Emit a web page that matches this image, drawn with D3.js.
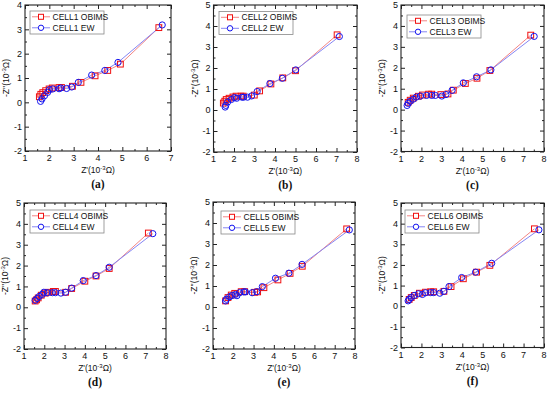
<!DOCTYPE html>
<html>
<head>
<meta charset="utf-8">
<script src="https://cdn.jsdelivr.net/npm/d3@7"></script>
<style>
  body { margin: 0; background: #fff; }
  svg { display: block; }
</style>
</head>
<body>
<div id="app"></div>
<script>
// Nyquist data, [Z', -Z''] in 10^-3 ohm
const cell1Obims = [[1.59,0.23],[1.65,0.33],[1.73,0.4],[1.85,0.48],[1.99,0.55],[2.12,0.59],[2.4,0.61],[2.5,0.61],[2.95,0.66],[3.3,0.82],[3.88,1.09],[4.4,1.31],[4.92,1.57],[6.5,3.07]]
const cell1Ew = [[1.64,0.04],[1.7,0.14],[1.8,0.27],[1.93,0.41],[2.0,0.52],[2.14,0.55],[2.4,0.56],[2.47,0.59],[2.71,0.57],[2.92,0.63],[3.19,0.82],[3.74,1.12],[4.28,1.31],[4.82,1.64],[6.64,3.18]]

const cell2Obims = [[1.48,0.33],[1.55,0.42],[1.62,0.5],[1.76,0.56],[1.95,0.62],[2.1,0.66],[2.34,0.66],[2.45,0.66],[2.99,0.71],[3.25,0.91],[3.8,1.24],[4.38,1.53],[5.0,1.87],[7.03,3.58]]
const cell2Ew = [[1.57,0.14],[1.6,0.22],[1.69,0.38],[1.87,0.5],[2.02,0.59],[2.13,0.56],[2.39,0.61],[2.47,0.61],[2.66,0.61],[2.86,0.67],[3.13,0.88],[3.75,1.26],[4.36,1.51],[5.01,1.91],[7.14,3.5]]

const cell3Obims = [[1.35,0.35],[1.45,0.45],[1.6,0.55],[1.85,0.64],[2.05,0.7],[2.35,0.74],[2.5,0.74],[2.95,0.72],[3.3,0.75],[3.56,0.93],[4.15,1.25],[4.72,1.5],[5.35,1.87],[7.35,3.56]]
const cell3Ew = [[1.3,0.2],[1.35,0.3],[1.45,0.4],[1.6,0.5],[1.75,0.6],[1.95,0.65],[2.25,0.68],[2.5,0.68],[2.68,0.68],[3.0,0.65],[3.2,0.72],[3.5,0.92],[4.05,1.28],[4.7,1.57],[5.4,1.9],[7.52,3.5]]

const cell4Obims = [[1.55,0.3],[1.62,0.36],[1.7,0.45],[1.85,0.58],[2.05,0.68],[2.2,0.72],[2.45,0.76],[2.55,0.76],[3.05,0.72],[3.35,0.9],[4.0,1.25],[4.55,1.5],[5.2,1.86],[7.13,3.56]]
const cell4Ew = [[1.55,0.33],[1.65,0.42],[1.75,0.52],[1.9,0.62],[1.98,0.72],[2.15,0.7],[2.4,0.7],[2.55,0.7],[2.82,0.68],[3.05,0.72],[3.35,0.92],[3.92,1.28],[4.55,1.52],[5.2,1.92],[7.35,3.53]]

const cell5Obims = [[1.62,0.29],[1.74,0.45],[1.9,0.57],[2.07,0.65],[2.39,0.73],[2.56,0.73],[3.05,0.7],[3.2,0.72],[3.51,0.92],[4.2,1.29],[4.8,1.6],[5.4,1.94],[7.59,3.72]]
const cell5Ew = [[1.62,0.29],[1.66,0.37],[1.82,0.49],[1.95,0.55],[2.11,0.6],[2.18,0.54],[2.31,0.68],[2.52,0.72],[2.6,0.72],[2.93,0.68],[3.16,0.73],[3.43,0.97],[4.08,1.37],[4.74,1.61],[5.39,2.03],[7.72,3.67]]

const cell6Obims = [[1.4,0.33],[1.5,0.42],[1.65,0.52],[1.9,0.63],[2.2,0.68],[2.45,0.7],[2.6,0.7],[3.1,0.72],[3.45,0.95],[4.05,1.33],[4.7,1.65],[5.35,1.98],[7.53,3.75]]
const cell6Ew = [[1.35,0.26],[1.4,0.33],[1.5,0.42],[1.65,0.52],[1.85,0.6],[2.05,0.57],[2.2,0.65],[2.45,0.66],[2.6,0.66],[2.9,0.63],[3.1,0.72],[3.35,0.95],[3.97,1.39],[4.65,1.65],[5.44,2.08],[7.75,3.7]]

const cellNames = ["CELL1", "CELL2", "CELL3", "CELL4", "CELL5", "CELL6"]
const panelLetters = ["(a)", "(b)", "(c)", "(d)", "(e)", "(f)"]
const xDomains = [[1,7],[1,8],[1,8],[1,8],[1,8],[1,8]]
const yDomains = [[-2,4],[-2,5],[-2,5],[-2,5],[-2,5],[-2,5]]

const obimsSets = [cell1Obims, cell2Obims, cell3Obims, cell4Obims, cell5Obims, cell6Obims]
const ewSets = [cell1Ew, cell2Ew, cell3Ew, cell4Ew, cell5Ew, cell6Ew]

// frame boxes of the six plots: left, top, right, bottom
const frames = [
  [25, 5, 171, 151],
  [213.5, 5, 357, 152],
  [401, 5, 544, 151.5],
  [24, 203, 166, 349],
  [213, 202, 355, 349],
  [401, 203, 544, 347.5]
]
const legendPos = [[5, 6], [5.5, 6.5], [6, 10], [6, 7], [8, 9], [4, 7]]

const red = "#f01010", redLine = "#f38585"
const blue = "#1414f0", blueLine = "#8585f3"
const font = "'Liberation Sans', Arial, sans-serif"

const svg = d3.select("#app").append("svg")
  .attr("width", 550).attr("height", 395)

svg.append("rect").attr("width", 550).attr("height", 395).attr("fill", "#fff")

function drawPanel(i) {
  const [l, t, r, b] = frames[i]
  const g = svg.append("g")
  const x = d3.scaleLinear().domain(xDomains[i]).range([l, r])
  const y = d3.scaleLinear().domain(yDomains[i]).range([b, t])

  const xMajor = d3.range(xDomains[i][0], xDomains[i][1] + 0.01, 1)
  const yMajor = d3.range(yDomains[i][0], yDomains[i][1] + 0.01, 1)
  const xMinor = d3.range(xDomains[i][0] + 0.5, xDomains[i][1], 1)
  const yMinor = d3.range(yDomains[i][0] + 0.5, yDomains[i][1], 1)

  // inward ticks on all four sides
  const xaxes = [
    [d3.axisBottom(x).tickValues(xMajor).tickSize(-4), b],
    [d3.axisTop(x).tickValues(xMajor).tickSize(-4), t],
    [d3.axisBottom(x).tickValues(xMinor).tickSize(-2), b],
    [d3.axisTop(x).tickValues(xMinor).tickSize(-2), t]
  ]
  xaxes.forEach(([ax, ty]) => {
    g.append("g").attr("transform", `translate(0,${ty})`)
      .call(ax.tickFormat(""))
      .call(s => s.select(".domain").remove())
      .call(s => s.selectAll("line").attr("stroke", "#222"))
  })
  const yaxes = [
    [d3.axisLeft(y).tickValues(yMajor).tickSize(-4), l],
    [d3.axisRight(y).tickValues(yMajor).tickSize(-4), r],
    [d3.axisLeft(y).tickValues(yMinor).tickSize(-2), l],
    [d3.axisRight(y).tickValues(yMinor).tickSize(-2), r]
  ]
  yaxes.forEach(([ax, tx]) => {
    g.append("g").attr("transform", `translate(${tx},0)`)
      .call(ax.tickFormat(""))
      .call(s => s.select(".domain").remove())
      .call(s => s.selectAll("line").attr("stroke", "#222"))
  })

  g.append("rect")
    .attr("x", l).attr("y", t).attr("width", r - l).attr("height", b - t)
    .attr("fill", "none").attr("stroke", "#222").attr("stroke-width", 1.1)

  // tick labels
  g.selectAll(".xl").data(xMajor).enter().append("text")
    .attr("x", d => x(d)).attr("y", b + 10)
    .attr("text-anchor", "middle")
    .attr("font-family", font).attr("font-size", 9).attr("fill", "#111")
    .text(d => d)
  g.selectAll(".yl").data(yMajor).enter().append("text")
    .attr("x", l - 3).attr("y", d => y(d) + 3.2)
    .attr("text-anchor", "end")
    .attr("font-family", font).attr("font-size", 9).attr("fill", "#111")
    .text(d => d)

  // axis titles
  const xt = g.append("text")
    .attr("x", (l + r) / 2).attr("y", b + 22)
    .attr("text-anchor", "middle")
    .attr("font-family", font).attr("font-size", 8.5).attr("fill", "#111")
  xt.append("tspan").text("Z'(10")
  xt.append("tspan").attr("dy", -3).attr("font-size", 6).text("-3")
  xt.append("tspan").attr("dy", 3).text("Ω)")

  const yt = g.append("text")
    .attr("transform", `translate(${l - 16},${(t + b) / 2}) rotate(-90)`)
    .attr("text-anchor", "middle")
    .attr("font-family", font).attr("font-size", 8.5).attr("fill", "#111")
  yt.append("tspan").text("-Z''(10")
  yt.append("tspan").attr("dy", -3).attr("font-size", 6).text("-3")
  yt.append("tspan").attr("dy", 3).text("Ω)")

  g.append("text")
    .attr("x", (l + r) / 2).attr("y", b + 37)
    .attr("text-anchor", "middle")
    .attr("font-family", "'Liberation Serif', 'Times New Roman', serif")
    .attr("font-size", 11.5).attr("font-weight", "bold").attr("fill", "#111")
    .text(panelLetters[i])

  // series
  const line = d3.line().x(d => x(d[0])).y(d => y(d[1]))
  g.append("path").datum(obimsSets[i]).attr("d", line)
    .attr("fill", "none").attr("stroke", redLine).attr("stroke-width", 1)
  g.append("path").datum(ewSets[i]).attr("d", line)
    .attr("fill", "none").attr("stroke", blueLine).attr("stroke-width", 1)

  g.selectAll(".sq").data(obimsSets[i]).enter().append("rect")
    .attr("x", d => x(d[0]) - 2.9).attr("y", d => y(d[1]) - 2.9)
    .attr("width", 5.8).attr("height", 5.8)
    .attr("fill", "none").attr("stroke", red).attr("stroke-width", 1)
  g.selectAll(".ci").data(ewSets[i]).enter().append("circle")
    .attr("cx", d => x(d[0])).attr("cy", d => y(d[1])).attr("r", 3.1)
    .attr("fill", "none").attr("stroke", blue).attr("stroke-width", 1)

  // legend
  const lx = l + legendPos[i][0], ly = t + legendPos[i][1]
  const lg = g.append("g").attr("transform", `translate(${lx},${ly})`)
  lg.append("rect").attr("width", 74).attr("height", 23)
    .attr("fill", "#fff").attr("stroke", "#888").attr("stroke-width", 0.8)
  const entries = [
    [cellNames[i] + " OBIMS", redLine, red, "sq"],
    [cellNames[i] + " EW", blueLine, blue, "ci"]
  ]
  entries.forEach((e, k) => {
    const yy = 5.8 + k * 11
    lg.append("line").attr("x1", 2).attr("x2", 20).attr("y1", yy).attr("y2", yy)
      .attr("stroke", e[1]).attr("stroke-width", 1)
    if (e[3] === "sq") {
      lg.append("rect").attr("x", 11 - 2.5).attr("y", yy - 2.5).attr("width", 5).attr("height", 5)
        .attr("fill", "#fff").attr("stroke", e[2])
    } else {
      lg.append("circle").attr("cx", 11).attr("cy", yy).attr("r", 2.7)
        .attr("fill", "#fff").attr("stroke", e[2])
    }
    lg.append("text").attr("x", 22.5).attr("y", yy + 3)
      .attr("font-family", font).attr("font-size", 8.5).attr("fill", "#111")
      .text(e[0])
  })
}

d3.range(6).forEach(drawPanel)
</script>
</body>
</html>
